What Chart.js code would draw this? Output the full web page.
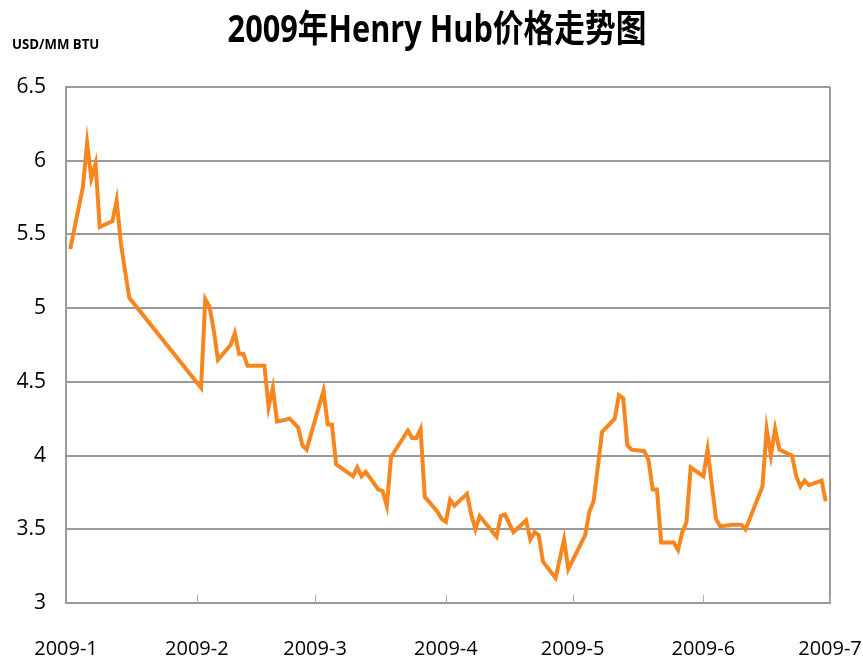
<!DOCTYPE html>
<html>
<head>
<meta charset="utf-8">
<script src="https://cdn.jsdelivr.net/npm/chart.js@4"></script>
<style>
  body { margin: 0; background: #fff; }
  #wrap { width: 863px; height: 661px; }
</style>
</head>
<body>
<div id="wrap"><canvas id="hhChart" width="863" height="661"></canvas></div>
<script>
// Henry Hub spot, 2009 H1
const dates = ['01-02','01-05','01-06','01-07','01-08','01-09','01-12','01-13','01-14','01-15','01-16',
  '02-02','02-03','02-04','02-05','02-06','02-09','02-10','02-11','02-12','02-13','02-17','02-18','02-19','02-20','02-23','02-25','02-26','02-27',
  '03-03','03-04','03-05','03-06','03-10','03-11','03-12','03-13','03-16','03-17','03-18','03-19','03-23','03-24','03-25','03-26','03-27','03-30','03-31',
  '04-01','04-02','04-03','04-06','04-07','04-08','04-09','04-13','04-14','04-15','04-17','04-20','04-21','04-22','04-23','04-24','04-27','04-28','04-29','04-30',
  '05-04','05-05','05-06','05-08','05-11','05-12','05-13','05-14','05-15','05-18','05-19','05-20','05-21','05-22','05-25','05-26','05-27','05-28','05-29',
  '06-01','06-02','06-04','06-05','06-08','06-09','06-10','06-11','06-15','06-16','06-17','06-18','06-19','06-22','06-23','06-24','06-25','06-26','06-29','06-30'];
const prices = [5.40,5.82,6.12,5.88,5.98,5.55,5.59,5.73,5.44,5.25,5.07,
  4.46,5.06,5.01,4.85,4.65,4.75,4.83,4.69,4.69,4.61,4.61,4.33,4.46,4.23,4.25,4.19,4.07,4.04,
  4.44,4.21,4.21,3.94,3.86,3.92,3.86,3.89,3.77,3.76,3.66,3.99,4.17,4.12,4.12,4.18,3.72,3.62,3.57,
  3.55,3.70,3.66,3.74,3.60,3.50,3.59,3.45,3.59,3.60,3.48,3.56,3.43,3.48,3.46,3.28,3.17,3.30,3.43,3.23,
  3.46,3.62,3.69,4.16,4.25,4.41,4.39,4.07,4.04,4.03,3.97,3.77,3.77,3.41,3.41,3.36,3.48,3.55,3.92,
  3.86,4.04,3.57,3.52,3.53,3.53,3.53,3.50,3.79,4.18,4.00,4.18,4.04,4.00,3.86,3.79,3.83,3.80,3.83,3.69];
const monthLabels = ['2009-1','2009-2','2009-3','2009-4','2009-5','2009-6','2009-7'];
const yTicks = [3, 3.5, 4, 4.5, 5, 5.5, 6, 6.5];

const dayOf = (s) => {
  const p = s.split('-');
  return (Date.UTC(2009, +p[0] - 1, +p[1]) - Date.UTC(2009, 0, 1)) / 86400000;
};
const monthStarts = monthLabels.map((m, i) => (Date.UTC(2009, i, 1) - Date.UTC(2009, 0, 1)) / 86400000);
const points = dates.map((d, i) => ({ x: dayOf(d), y: prices[i] }));

const latin = "'Liberation Sans Narrow', 'Open Sans', 'Noto Sans CJK SC', sans-serif";
const gridGrey = '#9a9a9a';

// squeeze text horizontally, the original font is a condensed one
const narrowText = (c, txt, x, y, sx) => {
  c.save();
  c.translate(x, y);
  c.scale(sx, 1);
  c.fillText(txt, 0, 0);
  c.restore();
};

const decor = {
  id: 'decor',
  afterDraw(chart) {
    const c = chart.ctx, a = chart.chartArea, xs = chart.scales.x;
    c.save();
    // right frame line
    c.strokeStyle = gridGrey;
    c.lineWidth = 2;
    c.beginPath();
    c.moveTo(a.right, a.top);
    c.lineTo(a.right, a.bottom);
    c.stroke();
    // short inward ticks on the x axis
    c.lineWidth = 1;
    c.strokeStyle = '#b0b0b0';
    monthStarts.slice(1).forEach(v => {
      const px = Math.round(xs.getPixelForValue(v)) + 0.5;
      c.beginPath();
      c.moveTo(px, a.bottom);
      c.lineTo(px, a.bottom - 8);
      c.stroke();
    });
    // title + unit
    c.fillStyle = '#000';
    c.textBaseline = 'middle';
    c.textAlign = 'center';
    c.font = "bold 37px " + latin;
    narrowText(c, '2009年Henry Hub价格走势图', 437, 31, 0.83);
    c.textAlign = 'left';
    c.font = "bold 15px " + latin;
    narrowText(c, 'USD/MM BTU', 12, 45, 0.88);
    c.restore();
  }
};

new Chart(document.getElementById('hhChart').getContext('2d'), {
  type: 'line',
  data: {
    datasets: [{
      label: 'Henry Hub',
      data: points,
      borderColor: '#F7861F',
      borderWidth: 4,
      pointRadius: 0,
      tension: 0,
      fill: false
    }]
  },
  options: {
    responsive: false,
    animation: false,
    layout: { padding: { top: 87, right: 33, left: 0, bottom: 0 } },
    plugins: { legend: { display: false }, tooltip: { enabled: false }, title: { display: false } },
    scales: {
      x: {
        type: 'linear',
        min: 0,
        max: monthStarts[monthStarts.length - 1],
        afterBuildTicks: (s) => { s.ticks = monthStarts.map(v => ({ value: v })); },
        afterFit: (s) => { s.height = 58; s.paddingLeft = 0; s.paddingRight = 0; },
        grid: { drawOnChartArea: false, drawTicks: false },
        border: { display: true, color: gridGrey, width: 2 },
        ticks: {
          padding: 34,
          color: '#000',
          font: { family: latin, size: 20 },
          maxRotation: 0,
          autoSkip: false,
          callback: (v) => monthLabels[monthStarts.indexOf(v)]
        }
      },
      y: {
        min: 3,
        max: 6.5,
        afterBuildTicks: (s) => { s.ticks = yTicks.map(v => ({ value: v })); },
        afterFit: (s) => { s.width = 66; },
        grid: { color: gridGrey, lineWidth: 2, drawTicks: false },
        border: { display: true, color: gridGrey, width: 2 },
        ticks: {
          padding: 20,
          color: '#000',
          font: { family: latin, size: 21 },
          callback: (v) => String(v)
        }
      }
    }
  },
  plugins: [decor]
});
</script>
</body>
</html>
